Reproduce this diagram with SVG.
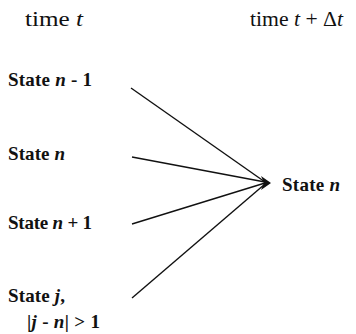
<svg xmlns="http://www.w3.org/2000/svg" width="356" height="334" viewBox="0 0 356 334">
<style>
.hd{font-family:"Liberation Serif","Times New Roman",serif;font-size:22px;fill:#111}
.st{font-family:"Liberation Serif","Times New Roman",serif;font-size:19px;font-weight:bold;fill:#111}
.it{font-style:italic}
.ln{stroke:#111;stroke-width:1.4;fill:none}
</style>
<rect width="356" height="334" fill="#fff"/>
<g id="header-left"><text class="hd" x="25" y="26" textLength="58" lengthAdjust="spacingAndGlyphs">time <tspan class="it">t</tspan></text></g>
<g id="header-right"><text class="hd" x="250" y="26" textLength="93" lengthAdjust="spacingAndGlyphs">time <tspan class="it">t</tspan> + Δ<tspan class="it">t</tspan></text></g>
<g id="node-n-minus-1"><text class="st" x="8" y="86" textLength="84">State <tspan class="it">n</tspan> - 1</text></g>
<g id="node-n"><text class="st" x="8" y="160" textLength="57">State <tspan class="it">n</tspan></text></g>
<g id="node-n-plus-1"><text class="st" x="8" y="229" textLength="84">State <tspan class="it">n</tspan> + 1</text></g>
<g id="node-j"><text class="st" x="8" y="302" textLength="57">State <tspan class="it">j</tspan>,</text><text class="st" x="27" y="328" textLength="73">|<tspan class="it">j</tspan> - <tspan class="it">n</tspan>| &gt; 1</text></g>
<g id="node-target"><text class="st" x="282" y="191" textLength="58">State <tspan class="it">n</tspan></text></g>
<g id="connectors">
<line class="ln" x1="131" y1="88" x2="265" y2="182"/>
<line class="ln" x1="132" y1="157" x2="265" y2="182"/>
<line class="ln" x1="132" y1="224" x2="265" y2="183"/>
<line class="ln" x1="132" y1="298" x2="265" y2="184"/>
<polygon points="271,183 261,176 264,183 261,190" fill="#111"/>
</g>
</svg>
